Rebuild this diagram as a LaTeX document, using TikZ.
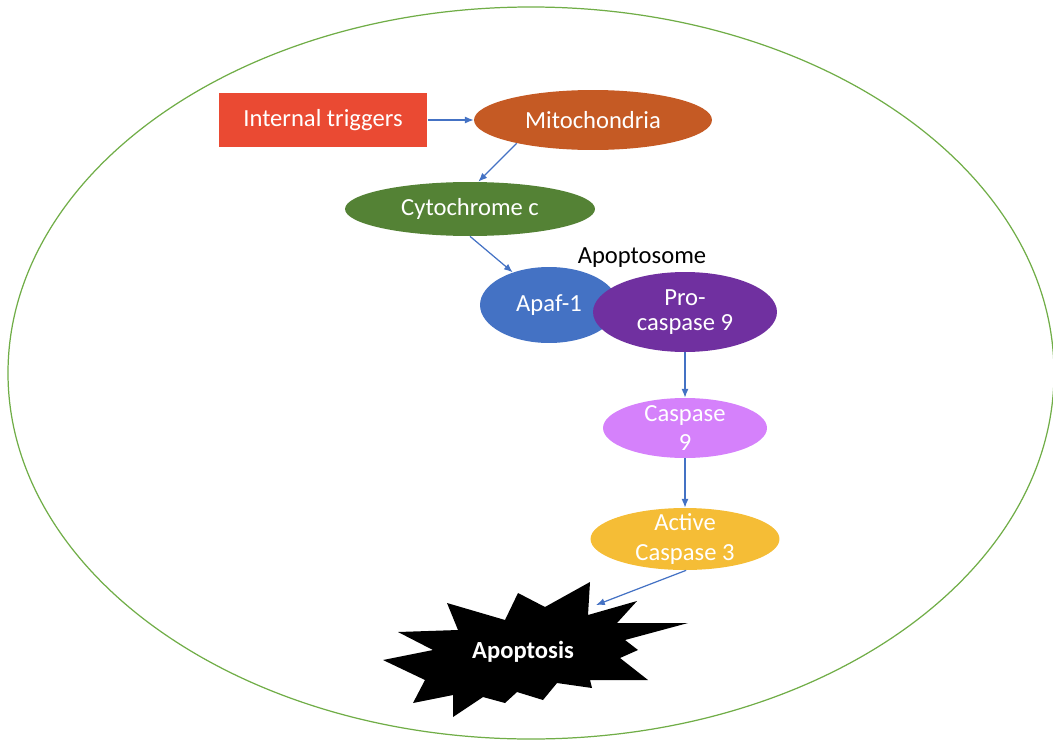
\documentclass[tikz,border=0pt]{standalone}
\usepackage{fontspec}
\setmainfont{Carlito}
\usetikzlibrary{shapes.geometric,arrows.meta}

\tikzset{
  blob/.style = {ellipse, inner xsep=0pt, inner ysep=-6pt, text=white, align=center,
                 font=\fontsize{14}{17}\selectfont},
  link/.style = {draw=arrowblue, line width=0.7pt, -{Latex[length=5pt,width=4pt]}}
}

\begin{document}
\begin{tikzpicture}[x=0.02cm, y=-0.02cm]
\definecolor{cellgreen}{HTML}{70AD47}
\definecolor{arrowblue}{HTML}{4472C4}
\definecolor{trigred}{HTML}{EA4A33}
\definecolor{mitobrown}{HTML}{C55A24}
\definecolor{cytogreen}{HTML}{548235}
\definecolor{apafblue}{HTML}{4472C4}
\definecolor{propurple}{HTML}{7030A0}
\definecolor{casplilac}{HTML}{D581FB}
\definecolor{actyellow}{HTML}{F5BD36}
\useasboundingbox (0,0) rectangle (1053,740);

% the cell
\draw[cellgreen, line width=0.7pt] (531,373) ellipse [x radius=523, y radius=366];

% mitochondrial pathway
\node[fill=trigred, text=white, minimum width=4.18cm, minimum height=1.08cm, inner sep=0pt,
      font=\fontsize{14}{17}\selectfont] (trig) at (323,120) {Internal triggers};
\node[blob, fill=mitobrown, minimum width=4.76cm, minimum height=1.2cm] (mito) at (593,120) {Mitochondria};
\node[blob, fill=cytogreen, minimum width=5cm, minimum height=1.08cm] (cyto) at (470,209) {Cytochrome c};
\node[blob, fill=apafblue, minimum width=2.76cm, minimum height=1.52cm] (apaf) at (549,305) {Apaf-1};
\node[blob, fill=propurple, minimum width=3.68cm, minimum height=1.6cm,
      font=\fontsize{14}{14}\selectfont] (procasp) at (685,312) {Pro-\\caspase 9};
\node[font=\fontsize{14}{17}\selectfont] (apoptosome) at (642,258) {Apoptosome};
\node[blob, fill=casplilac, minimum width=3.28cm, minimum height=1.2cm] (casp9) at (685,428) {Caspase\\9};
\node[blob, fill=actyellow, minimum width=3.78cm, minimum height=1.24cm] (casp3) at (685,539) {Active\\Caspase 3};

% cell death
\fill[black] (590,582) -- (588,615) -- (637,601) -- (617,623) -- (688,623) -- (625,640)
  -- (638,650) -- (620,658) -- (648,680) -- (590,680) -- (592,688) -- (557,683)
  -- (543,700) -- (517,692) -- (505,703) -- (483,697) -- (453,717) -- (453,695)
  -- (413,703) -- (425,680) -- (383,660) -- (433,650) -- (398,632) -- (458,630)
  -- (447,603) -- (505,620) -- (518,593) -- (545,607) -- cycle;
\node[text=white, font=\bfseries\fontsize{14}{17}\selectfont] (apoptosis) at (523,652) {Apoptosis};
\coordinate (burst) at (596,605);

\draw[link] (trig) -- (mito);
\draw[link] (mito.197) -- (cyto.73);
\draw[link] (cyto.south) -- (apaf.138);
\draw[link] (procasp.south) -- (casp9.north);
\draw[link] (casp9.south) -- (casp3.north);
\draw[link] (casp3.272) -- (burst);
\end{tikzpicture}
\end{document}
